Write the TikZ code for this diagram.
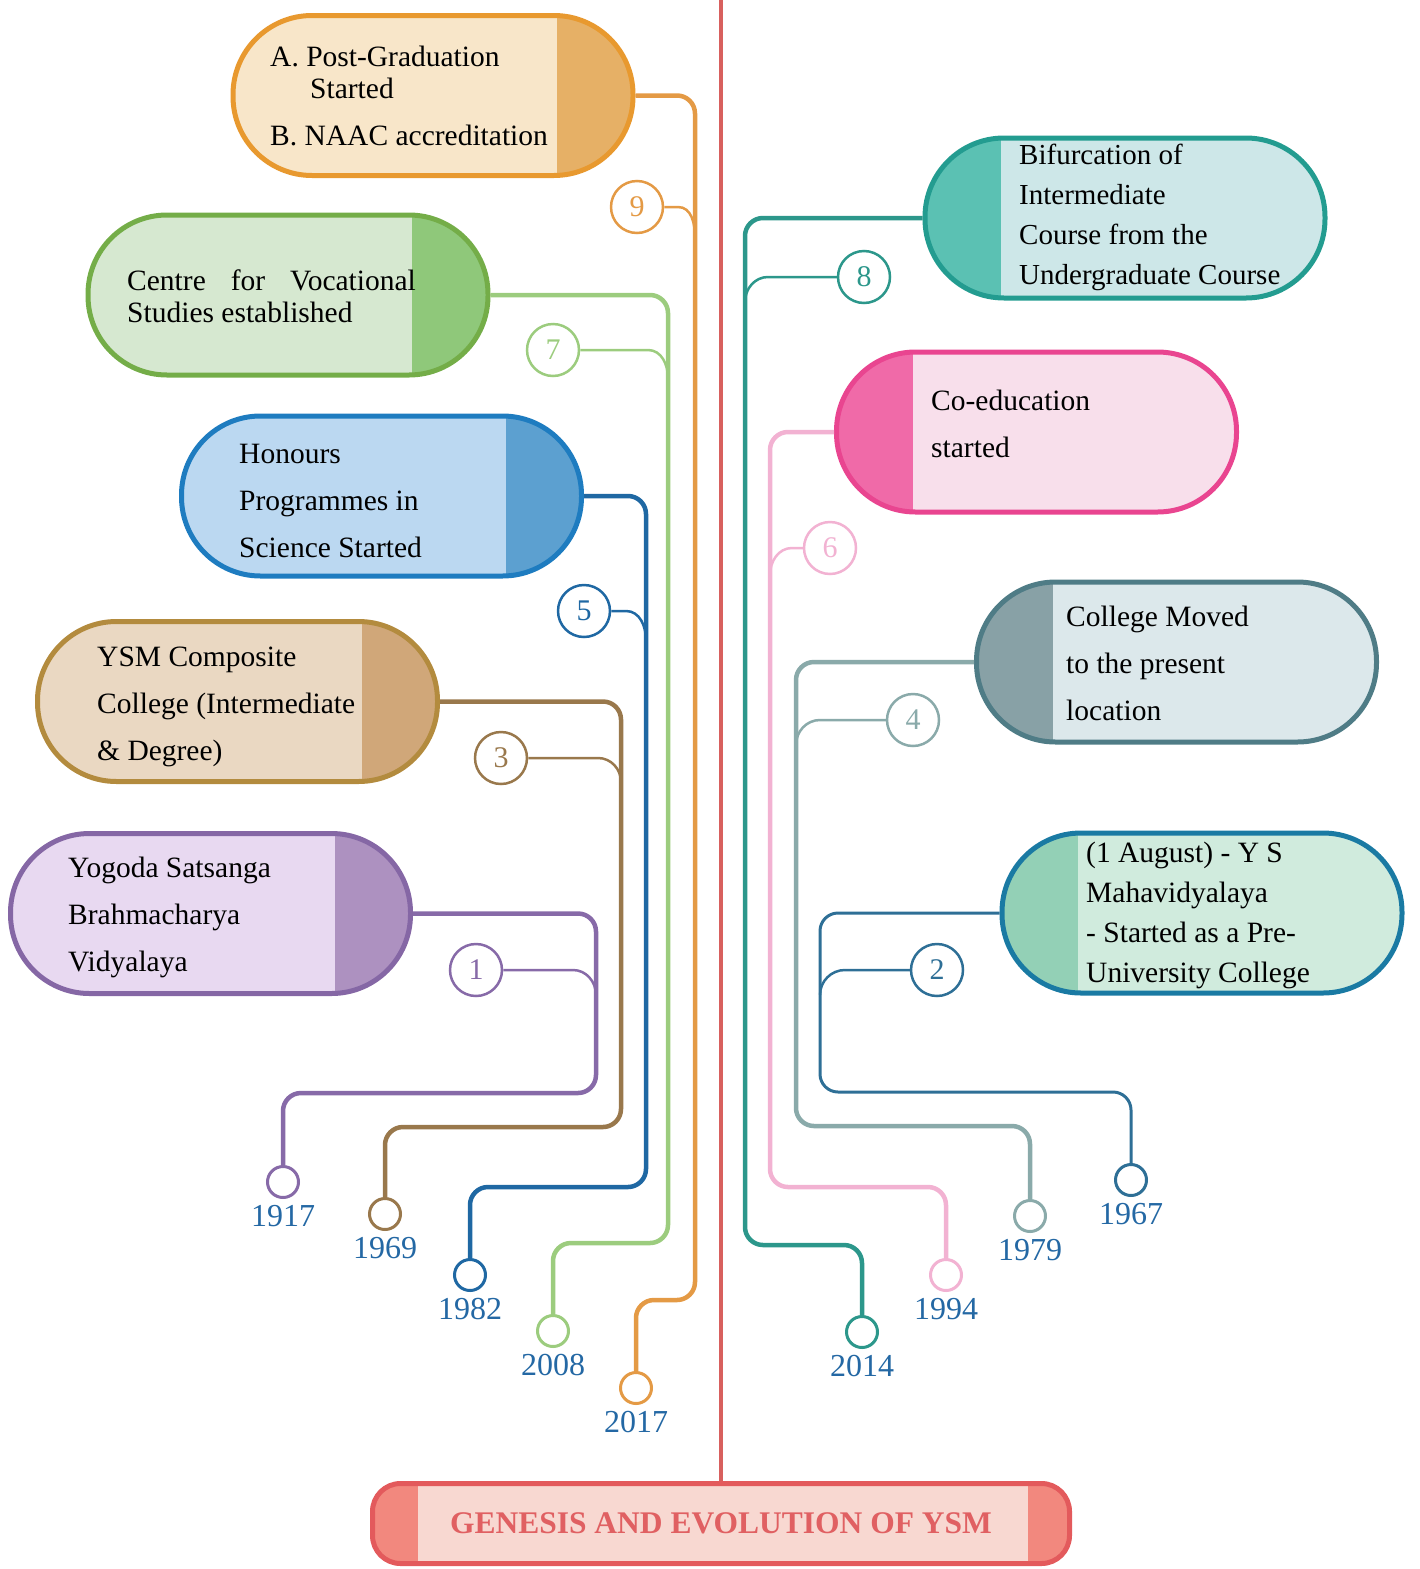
\documentclass[tikz,border=0pt]{standalone}
\usepackage{fontspec}
\setmainfont{Liberation Serif}
\usetikzlibrary{positioning}
\definecolor{oraB}{HTML}{E8992F}\definecolor{oraF}{HTML}{F8E6C9}\definecolor{oraD}{HTML}{E6B066}\definecolor{oraK}{HTML}{E49A45}
\definecolor{grnB}{HTML}{74AD48}\definecolor{grnF}{HTML}{D6E8D0}\definecolor{grnD}{HTML}{8FC87A}\definecolor{grnK}{HTML}{9CCC7E}
\definecolor{bluB}{HTML}{1E7CC0}\definecolor{bluF}{HTML}{BBD8F1}\definecolor{bluD}{HTML}{5CA0D0}\definecolor{bluK}{HTML}{1F68A3}
\definecolor{brnB}{HTML}{B38B3E}\definecolor{brnF}{HTML}{EAD8C2}\definecolor{brnD}{HTML}{D0A779}\definecolor{brnK}{HTML}{99784C}
\definecolor{purB}{HTML}{8567A5}\definecolor{purF}{HTML}{E8D9F1}\definecolor{purD}{HTML}{AD91C0}\definecolor{purK}{HTML}{876AA8}
\definecolor{tealB}{HTML}{239C90}\definecolor{tealF}{HTML}{CDE7E8}\definecolor{tealD}{HTML}{5BC1B3}\definecolor{tealK}{HTML}{2C978B}
\definecolor{pnkB}{HTML}{E94590}\definecolor{pnkF}{HTML}{F8DFEB}\definecolor{pnkD}{HTML}{F06AA8}\definecolor{pnkK}{HTML}{F2B2D2}
\definecolor{grayB}{HTML}{4F7C86}\definecolor{grayF}{HTML}{DCE8EB}\definecolor{grayD}{HTML}{88A1A6}\definecolor{grayK}{HTML}{8AAAAA}
\definecolor{cynB}{HTML}{1A7AA3}\definecolor{cynF}{HTML}{D0EBDD}\definecolor{cynD}{HTML}{93D0B6}\definecolor{cynK}{HTML}{2E6F96}
\definecolor{yearC}{HTML}{2468A4}
\definecolor{redK}{HTML}{D8605E}\definecolor{redB}{HTML}{E35A5C}\definecolor{redF}{HTML}{F8D8D1}\definecolor{redD}{HTML}{F2887E}\definecolor{redT}{HTML}{E06062}
\begin{document}
\begin{tikzpicture}[x=1pt,y=-1pt,
  pill/.style 2 args={draw=#1,fill=#2,line width=5,rounded corners=79,minimum width=400,minimum height=160,inner sep=0},
  bandR/.style={path picture={\fill[#1,sharp corners] ([xshift=-76]path picture bounding box.north east) rectangle (path picture bounding box.south east);}},
  bandL/.style={path picture={\fill[#1,sharp corners] (path picture bounding box.north west) rectangle ([xshift=76]path picture bounding box.south west);}},
  txt/.style={anchor=west,align=left,inner sep=0,yshift=-4,font=\fontsize{29.5}{47}\selectfont},
  link/.style={draw=#1,line width=4.5,rounded corners=18},
  tlink/.style={draw=#1,line width=2.5},
  badge/.style={circle,draw=#1,text=#1,fill=white,line width=2.5,minimum size=52,inner sep=0,font=\fontsize{30}{30}\selectfont},
  yrdot/.style={circle,draw=#1,fill=white,line width=3,minimum size=31,inner sep=0},
  yr/.style={text=yearC,inner sep=0,font=\fontsize{32}{32}\selectfont}]
\useasboundingbox (0,0) rectangle (1420,1569);
% title and trunk
\node[draw=redB,fill=redF,line width=5,rounded corners=28,minimum width=697,minimum height=80,text=redT,font=\bfseries\fontsize{31.5}{31.5}\selectfont,
  path picture={\fill[redD,sharp corners] (path picture bounding box.north west) rectangle ([xshift=45]path picture bounding box.south west);
                \fill[redD,sharp corners] ([xshift=-42]path picture bounding box.north east) rectangle (path picture bounding box.south east);}]
  (ttl) at (721,1523.5) {GENESIS AND EVOLUTION OF YSM};
\coordinate (top) at (721,0);
\draw[redK,line width=4] (top) -- (ttl.north);
% event pills
\node[pill={oraB}{oraF},bandR=oraD] (p9) at (433,95.5) {};
\node[pill={grnB}{grnF},bandR=grnD] (p7) at (288,295) {};
\node[pill={bluB}{bluF},bandR=bluD] (p5) at (381.5,496) {};
\node[pill={brnB}{brnF},bandR=brnD] (p3) at (237.5,701.5) {};
\node[pill={purB}{purF},bandR=purD] (p1) at (210.5,913.5) {};
\node[pill={tealB}{tealF},bandL=tealD] (p8) at (1125,218) {};
\node[pill={pnkB}{pnkF},bandL=pnkD] (p6) at (1036.5,432) {};
\node[pill={grayB}{grayF},bandL=grayD] (p4) at (1176.5,662) {};
\node[pill={cynB}{cynF},bandL=cynD] (p2) at (1202,913) {};
\node[txt] at (270,92) {A. Post-Graduation\\[-15pt]\hspace*{40pt}Started\\B. NAAC accreditation};
\node[txt,font=\fontsize{29.5}{32}\selectfont] at (127,292) {Centre\hspace{25pt}for\hspace{25pt}Vocational\\Studies established};
\node[txt] at (239,496.5) {Honours\\Programmes in\\Science Started};
\node[txt] at (97,702.5) {YSM Composite\\College (Intermediate\\\& Degree)};
\node[txt] at (68,913) {Yogoda Satsanga\\Brahmacharya\\Vidyalaya};
\node[txt,font=\fontsize{29}{40}\selectfont] at (1019,213.5) {Bifurcation of\\Intermediate\\Course from the\\Undergraduate Course};
\node[txt] at (931,419.5) {Co-education\\started};
\node[txt] at (1066,659) {College Moved\\to the present\\location};
\node[txt,font=\fontsize{29.5}{40}\selectfont] at (1086,911.5) {(1 August) - Y S\\Mahavidyalaya\\- Started as a Pre-\\University College};
% year dots
\node[yrdot=oraK] (d9) at (636,1388) {};
\node[yrdot=grnK] (d7) at (553,1331) {};
\node[yrdot=bluK] (d5) at (470,1275) {};
\node[yrdot=brnK] (d3) at (385,1214) {};
\node[yrdot=purK] (d1) at (283,1182) {};
\node[yrdot=tealK] (d8) at (862,1332) {};
\node[yrdot=pnkK] (d6) at (946,1275) {};
\node[yrdot=grayK] (d4) at (1030,1216) {};
\node[yrdot=cynK] (d2) at (1131,1180) {};
\node[yr,below=6pt of d9] {2017};
\node[yr,below=6pt of d7] {2008};
\node[yr,below=6pt of d5] {1982};
\node[yr,below=6pt of d3] {1969};
\node[yr,below=6pt of d1] {1917};
\node[yr,below=6pt of d8] {2014};
\node[yr,below=6pt of d6] {1994};
\node[yr,below=6pt of d4] {1979};
\node[yr,below=6pt of d2] {1967};
% links
\draw[link=oraK] (p9.east) -| (695,1300) -| (d9.north);
\draw[link=grnK] (p7.east) -| (668,1243) -| (d7.north);
\draw[link=bluK] (p5.east) -| (646,1187) -| (d5.north);
\draw[link=brnK] (p3.east) -| (621,1127) -| (d3.north);
\draw[link=purK] (p1.east) -| (596,1093) -| (d1.north);
\draw[link=tealK] (p8.west) -| (745,1245) -| (d8.north);
\draw[link=pnkK] (p6.west) -| (770,1187) -| (d6.north);
\draw[link=grayK] (p4.west) -| (796,1126) -| (d4.north);
\draw[link=cynK,line width=3] (p2.west) -| (820,1092) -| (d2.north);
% numbered badges
\node[badge=oraK] (b9) at (637,207) {9};
\node[badge=grnK] (b7) at (553,350) {7};
\node[badge=bluK] (b5) at (584,611) {5};
\node[badge=brnK] (b3) at (501,758) {3};
\node[badge=purK] (b1) at (476,970) {1};
\node[badge=tealK] (b8) at (864,277) {8};
\node[badge=pnkK] (b6) at (830,548) {6};
\node[badge=grayK] (b4) at (913,720) {4};
\node[badge=cynK] (b2) at (937,970) {2};
\draw[tlink=oraK] (b9.east) -- (678,207) to[out=0,in=90] (695,237);
\draw[tlink=grnK] (b7.east) -- (648,350) to[out=0,in=90] (668,378);
\draw[tlink=bluK] (b5.east) -- (626,611) to[out=0,in=90] (646,640);
\draw[tlink=brnK] (b3.east) -- (598,758) to[out=0,in=90] (621,782);
\draw[tlink=purK] (b1.east) -- (573,970) to[out=0,in=90] (596,995);
\draw[tlink=tealK] (b8.west) -- (768,277) to[out=180,in=90] (745,302);
\draw[tlink=pnkK] (b6.west) -- (792,548) to[out=180,in=90] (770,575);
\draw[tlink=grayK] (b4.west) -- (820,720) to[out=180,in=90] (796,745);
\draw[tlink=cynK] (b2.west) -- (845,970) to[out=180,in=90] (820,995);
\end{tikzpicture}
\end{document}
